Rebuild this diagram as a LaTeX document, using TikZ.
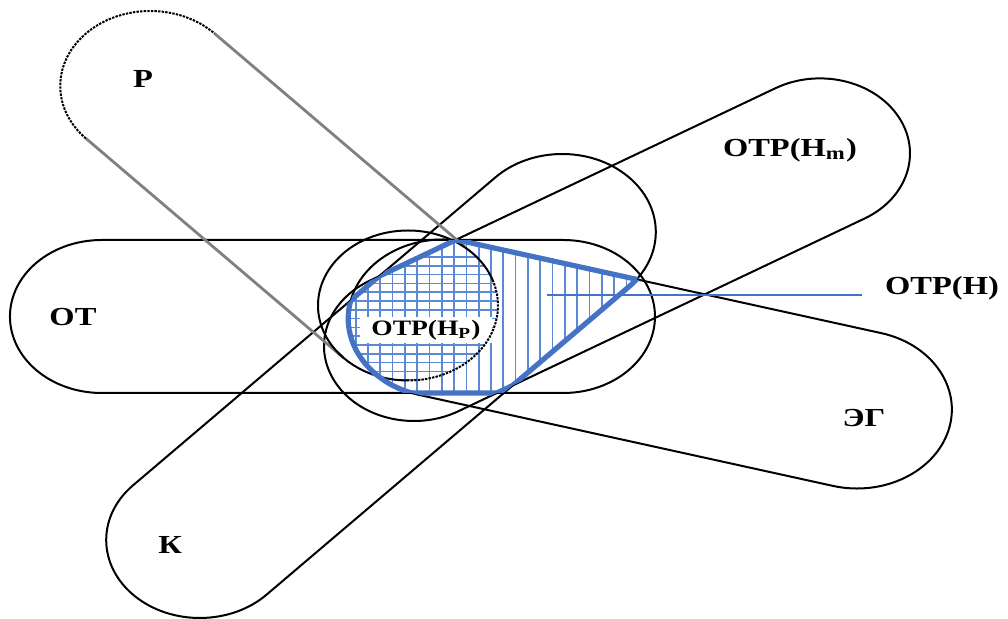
\documentclass[tikz,border=0pt]{standalone}
\usepackage{fontspec}
\setmainfont{Liberation Serif}
\usetikzlibrary{calc}
\definecolor{zoneblue}{RGB}{68,114,196}
\definecolor{hatchblue}{RGB}{92,136,212}
\tikzstyle{zone} = [line width=1pt, black]
\tikzstyle{rzone} = [line width=1.4pt, gray]
\tikzstyle{rcap} = [line width=1pt, dash pattern=on 1.2pt off 0.6pt, black]
\tikzstyle{hatch} = [line width=0.85pt, hatchblue]
\tikzstyle{rim} = [line width=2.6pt, zoneblue]
\tikzstyle{leader} = [line width=0.7pt, zoneblue]
\tikzstyle{lbl} = [font=\bfseries\fontsize{13}{15}\selectfont, xscale=1.25, inner sep=1pt]
% stadium: start x, start y, end x, end y, radius
\tikzset{
  stadium/.style n args={5}{insert path={
    ($(#1,#2)+({atan2(#4-#2,#3-#1)+90}:#5)$)
    -- ($(#3,#4)+({atan2(#4-#2,#3-#1)+90}:#5)$)
    arc[start angle={atan2(#4-#2,#3-#1)+90}, delta angle=-180, radius=#5]
    -- ($(#1,#2)+({atan2(#4-#2,#3-#1)-90}:#5)$)
    arc[start angle={atan2(#4-#2,#3-#1)-90}, delta angle=-180, radius=#5]
    -- cycle}},
  otshape/.style={stadium={84.8}{316.5}{469.3}{316.5}{76.5}},
  kshape/.style={stadium={166.5}{540}{468.5}{232}{78}},
  egshape/.style={stadium={369.2}{318.5}{714.2}{409.5}{79}},
  hmshape/.style={stadium={345}{346}{683.3}{153.4}{75}}
}

\begin{document}
\begin{tikzpicture}[x=0.6pt, y=-0.5pt]
    % page frame, x is stretched by 1.2
    \useasboundingbox (0,0) rectangle (840,619);

    \coordinate (rA) at (125.2,86);    % outer end of P
    \coordinate (rB) at (340,305.5);   % inner end of P

    % the zones
    \draw[zone, otshape];
    \draw[zone, kshape];
    \draw[zone, egshape];
    \draw[zone, hmshape];

    % P is drawn in gray with dotted ends
    \draw[rzone, shorten >=5pt] ($(rA)+(-44.4:75)$) -- ($(rB)+(-44.4:75)$);
    \draw[rzone] ($(rA)+(135.6:75)$) -- ($(rB)+(135.6:75)$);
    \draw[rcap] ($(rA)+(135.6:75)$) arc[start angle=135.6, end angle=315.6, radius=75];

    % hatching of the common part
    \begin{scope}
        \clip[otshape]; \clip[kshape]; \clip[egshape]; \clip[hmshape];
        \foreach \i in {-2,...,23}
            \draw[hatch] ({306.7+10.25*\i},220) -- ++(0,200);
        \clip (rB) circle[radius=75];
        \foreach \j in {0,...,14}
            \draw[hatch] (250,{257+8.8*\j}) -- ++(200,0);
    \end{scope}

    \node[lbl, font=\bfseries\fontsize{11}{13}\selectfont, fill=white,
          minimum width=53pt, minimum height=13pt] (lblHp) at (355,330) {ОТР(Н\textsubscript{Р})};

    % inner end of P
    \draw[zone] ($(rB)+(90:75)$) arc[start angle=90, end angle=340, radius=75];
    \draw[rcap] ($(rB)+(-20:75)$) arc[start angle=-20, end angle=90, radius=75];

    % blue rim of the common part
    \begin{scope}
        \clip[kshape]; \clip[egshape]; \clip[hmshape];
        \draw[rim, otshape];
    \end{scope}
    \begin{scope}
        \clip[otshape]; \clip[egshape]; \clip[hmshape];
        \draw[rim, kshape];
    \end{scope}
    \begin{scope}
        \clip[otshape]; \clip[kshape]; \clip[hmshape];
        \draw[rim, egshape];
    \end{scope}
    \begin{scope}
        \clip[otshape]; \clip[kshape]; \clip[egshape];
        \draw[rim, hmshape];
    \end{scope}

    % labels
    \node[lbl] (lblR) at (119.2,79) {Р};
    \node[lbl] (lblOT) at (60.8,317) {ОТ};
    \node[lbl] (lblK) at (141.7,545) {К};
    \node[lbl] (lblEG) at (720,418) {ЭГ};
    \node[lbl] (lblHm) at (658.3,150) {ОТР(Н\textsubscript{m})};
    \node[lbl, inner xsep=9pt] (lblH) at (785,288) {ОТР(Н)};

    \coordinate (hfoot) at (455.8,295);
    \draw[leader] (hfoot) -- (hfoot -| lblH.west);
\end{tikzpicture}
\end{document}
